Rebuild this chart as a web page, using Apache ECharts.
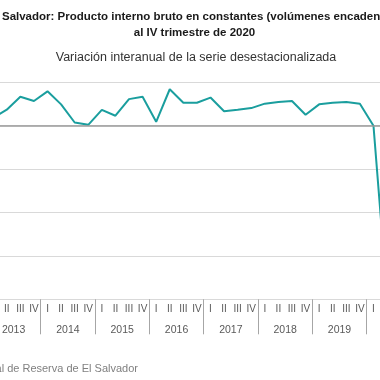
<!DOCTYPE html>
<html>
<head>
<meta charset="utf-8">
<script src="https://cdn.jsdelivr.net/npm/echarts@6/dist/echarts.min.js"></script>
<style>
html,body{margin:0;padding:0;width:380px;height:380px;overflow:hidden;background:#fff;position:relative;}
#c{position:absolute;left:-60px;top:0;width:500px;height:380px;}
</style>
</head>
<body>
<div id="c"></div>
<script>
// ---- data ----
var years = ['2013','2014','2015','2016','2017','2018','2019','2020'];
var quarterNames = ['I','II','III','IV'];
var values = [
  0.9, 1.84, 3.33, 2.85,
  3.96, 2.46, 0.37, 0.10,
  1.82, 1.15, 3.06, 3.33,
  0.45, 4.20, 2.65, 2.65,
  3.24, 1.66, 1.84, 2.03,
  2.54, 2.73, 2.85, 1.27,
  2.46, 2.65, 2.73, 2.54,
  0.00, -19.6, -10.5, -2.6
];
var yTicks = [-20, -15, -10, -5, 0, 5];
var titleLine1 = 'El Salvador: Producto interno bruto en constantes (volúmenes encadenados), I trimestre de 2013';
var titleLine2 = 'al IV trimestre de 2020';
var subtitle = 'Variación interanual de la serie desestacionalizada';
var source = 'Fuente: Banco Central de Reserva de El Salvador';

var quarters = [];
years.forEach(function (y) { quarterNames.forEach(function (q) { quarters.push(q); }); });

var OX = 60; // container offset
var font = '"Liberation Sans", Arial, sans-serif';
var chart = echarts.init(document.getElementById('c'), null, {renderer: 'canvas'});
chart.setOption({
  animation: false,
  backgroundColor: '#fff',
  grid: {left: 46.4, right: 19, top: 82.3, bottom: 80.7, outerBoundsMode: 'none', containLabel: false},
  graphic: [
    {type: 'text', x: OX - 12.1, y: 17, style: {text: titleLine1, textAlign: 'left', textVerticalAlign: 'middle', font: 'bold 11.5px ' + font, fill: '#1a1a1a'}},
    {type: 'text', x: OX + 194.5, y: 33.3, style: {text: titleLine2, textAlign: 'center', textVerticalAlign: 'middle', font: 'bold 11.5px ' + font, fill: '#1a1a1a'}},
    {type: 'text', x: OX + 196, y: 57.3, style: {text: subtitle, textAlign: 'center', textVerticalAlign: 'middle', font: '12.5px ' + font, fill: '#333'}},
    {type: 'text', x: OX + 138, y: 369.3, style: {text: source, textAlign: 'right', textVerticalAlign: 'middle', font: '11px ' + font, fill: '#808080'}}
  ],
  xAxis: [
    {
      type: 'category', data: quarters, position: 'bottom', boundaryGap: true,
      axisLine: {show: true, lineStyle: {color: '#d9d9d9', width: 1}},
      axisTick: {show: false},
      axisLabel: {interval: 0, margin: 5, fontSize: 10, color: '#595959', fontFamily: font},
      splitLine: {show: false}
    },
    {
      type: 'category', data: years, position: 'bottom', boundaryGap: true,
      axisLine: {show: false},
      axisTick: {show: true, interval: 0, length: 35, lineStyle: {color: '#a6a6a6', width: 1}},
      axisLabel: {interval: 0, margin: 25, fontSize: 10.5, color: '#595959', fontFamily: font},
      splitLine: {show: false}
    }
  ],
  yAxis: {
    type: 'value', min: yTicks[0], max: yTicks[yTicks.length - 1], interval: 5,
    axisLine: {show: false}, axisTick: {show: false},
    axisLabel: {fontSize: 10, color: '#595959', fontFamily: font},
    splitLine: {show: true, lineStyle: {color: '#d9d9d9', width: 1}}
  },
  series: [{
    type: 'line', data: values, xAxisIndex: 0, yAxisIndex: 0,
    symbol: 'none', smooth: false,
    lineStyle: {color: '#1a9e9e', width: 2},
    itemStyle: {color: '#1a9e9e'},
    markLine: {
      silent: true, symbol: ['none', 'none'], label: {show: false},
      lineStyle: {color: '#9a9a9a', width: 1.5, type: 'solid'},
      data: [{yAxis: 0}]
    }
  }]
});
</script>
</body>
</html>
